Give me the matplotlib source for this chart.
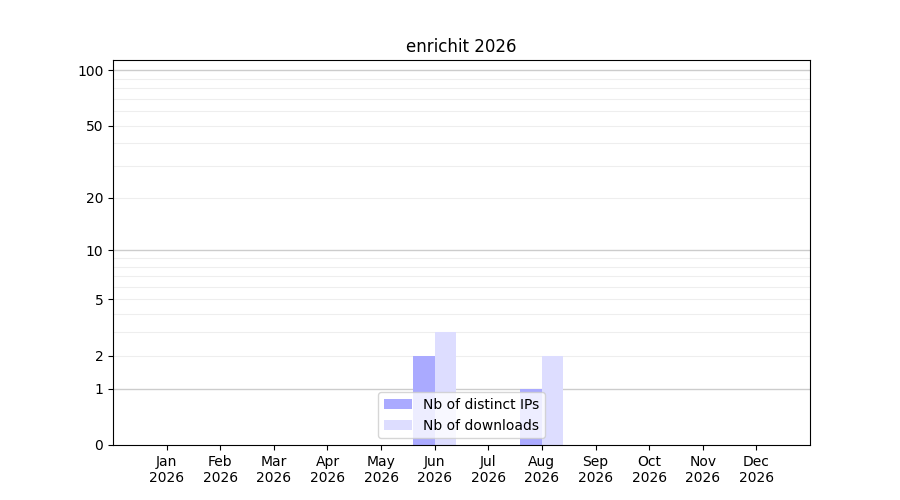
import numpy as np
import matplotlib
matplotlib.use('Agg')
import matplotlib.pyplot as plt
from matplotlib.ticker import FixedLocator, FixedFormatter

# Data
months = ['Jan', 'Feb', 'Mar', 'Apr', 'May', 'Jun',
          'Jul', 'Aug', 'Sep', 'Oct', 'Nov', 'Dec']
year = 2026
distinct_ips = [0, 0, 0, 0, 0, 2, 0, 1, 0, 0, 0, 0]
downloads = [0, 0, 0, 0, 0, 3, 0, 2, 0, 0, 0, 0]
ytick_values = [0, 1, 2, 5, 10, 20, 50, 100]


def forward(y):
    return np.log10(1 + np.maximum(y, 0))


def inverse(y):
    return 10 ** y - 1


fig, ax = plt.subplots(figsize=(9, 5), dpi=100)
fig.subplots_adjust(left=0.1256, right=0.9, top=0.88, bottom=0.11)

x = np.arange(len(months))
width = 0.4
ax.bar(x, distinct_ips, width=-width, align='edge', color='#aaaaff',
       label='Nb of distinct IPs', zorder=2)
ax.bar(x, downloads, width=width, align='edge', color='#ddddff',
       label='Nb of downloads', zorder=2)

ax.set_yscale('function', functions=(forward, inverse))
ax.set_ylim(0, 113.5)
ax.set_xlim(-1, 12)

ax.yaxis.set_major_locator(FixedLocator(ytick_values))
ax.yaxis.set_major_formatter(FixedFormatter([str(v) for v in ytick_values]))
minor = list(range(2, 10)) + list(range(20, 100, 10))
ax.yaxis.set_minor_locator(FixedLocator(minor))
ax.tick_params(axis='y', which='minor', length=0)

for v in [1, 10, 100]:
    ax.axhline(v, color='#cccccc', linewidth=1, zorder=1)
for v in minor:
    ax.axhline(v, color='#eeeeee', linewidth=0.8, zorder=1)

ax.set_xticks(x)
ax.set_xticklabels([f'{m}\n{year}' for m in months])
ax.set_title(f'enrichit {year}')
ax.legend(loc='lower center')

fig.savefig('out.png', dpi=100)
